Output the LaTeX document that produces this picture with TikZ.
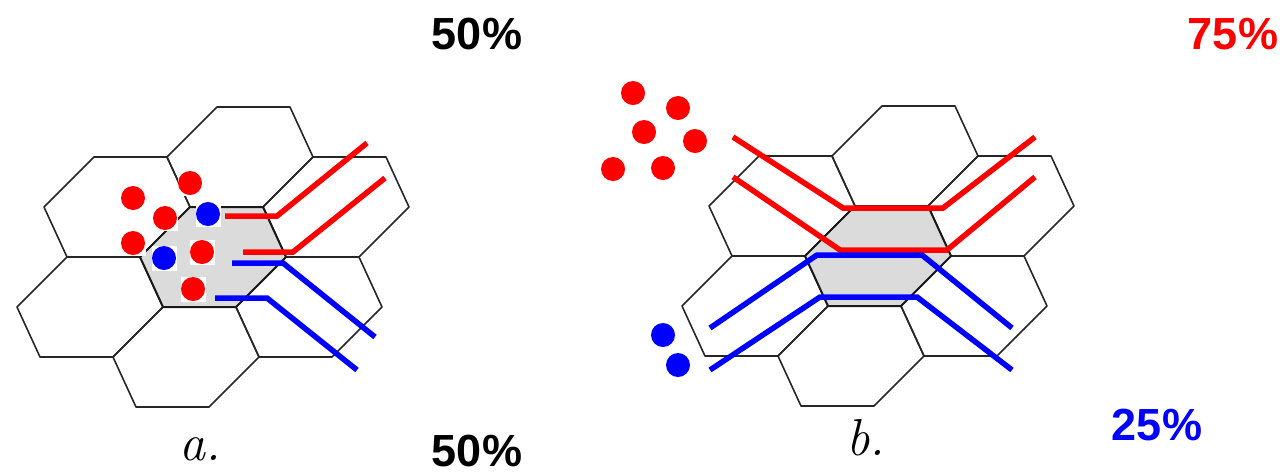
\documentclass[tikz,border=0pt]{standalone}
\usepackage{fontspec}
\newfontfamily\pctfont{Liberation Sans}
\begin{document}
\begin{tikzpicture}[x=1pt,y=-1pt,
  hexline/.style={draw=black!85, line width=1.6pt, line join=round},
  centerhex/.style={fill=black!14, draw=black!90, line width=2pt, line join=round},
  redpath/.style={draw=red, line width=5.5pt, line join=miter},
  bluepath/.style={draw=blue, line width=5.5pt, line join=miter},
  reddot/.style={circle, fill=red, minimum size=24pt, inner sep=0pt},
  bluedot/.style={circle, fill=blue, minimum size=24pt, inner sep=0pt},
  dotbg/.style={rectangle, fill=white, minimum size=25pt, inner sep=0pt},
  pct/.style={font=\pctfont\bfseries\fontsize{45}{50}\selectfont, inner sep=0pt},
  sublabel/.style={font=\fontsize{52}{60}\selectfont\itshape, inner sep=0pt, anchor=base},
  hexcell/.pic={\path[hexline] (-23,-50) -- (50,-50) -- (73,0) -- (23,50) -- (-50,50) -- (-73,0) -- cycle;},
  centercell/.pic={\path[centerhex] (-23,-50) -- (50,-50) -- (73,0) -- (23,50) -- (-50,50) -- (-73,0) -- cycle;}
]
\useasboundingbox (0,0) rectangle (1283,475);

% ---------- left cluster (a) ----------
\foreach \p in {(240,157),(336,207),(309,307),(186,357),(90,307),(117,207)}
  \pic at \p {hexcell};
\pic at (213,257) {centercell};

\draw[redpath]  (225,216) -- (277,216) -- (367,143);
\draw[redpath]  (243,252) -- (293,252) -- (385,178);
\draw[bluepath] (232,263) -- (283,263) -- (375,337);
\draw[bluepath] (215,298) -- (267,298) -- (357,370);

\foreach \n/\x/\y in {r1/190/183, r2/133/198, r3/165/218, r4/133/243, r5/202/252, r6/193/289}{
  \node[dotbg] (bg\n) at (\x,\y) {};
  \node[reddot] (a\n) at (\x,\y) {};
}
\foreach \n/\x/\y in {b1/208/214, b2/164/258}{
  \node[dotbg] (bg\n) at (\x,\y) {};
  \node[bluedot] (a\n) at (\x,\y) {};
}

% ---------- right cluster (b) ----------
\foreach \p in {(905,156),(1001,206),(974,306),(851,356),(755,306),(782,206)}
  \pic at \p {hexcell};
\pic at (878,256) {centercell};

\draw[redpath]  (733,137) -- (843,208) -- (943,208) -- (1035,137);
\draw[redpath]  (733,177) -- (840,250) -- (947,250) -- (1035,177);
\draw[bluepath] (710,328) -- (817,255) -- (922,255) -- (1012,328);
\draw[bluepath] (710,370) -- (820,297) -- (917,297) -- (1012,370);

\foreach \n/\x/\y in {r1/633/93, r2/678/108, r3/644/132, r4/695/141, r5/613/169, r6/663/168}
  \node[reddot] (b\n) at (\x,\y) {};
\foreach \n/\x/\y in {b1/663/335, b2/678/365}
  \node[bluedot] (b\n) at (\x,\y) {};

% ---------- labels ----------
\node[pct] (topa) at (477,34) {50\%};
\node[pct] (bota) at (477,451) {50\%};
\node[pct, text=red] (topb) at (1233,34) {75\%};
\node[pct, text=blue] (botb) at (1157,425) {25\%};
\node[sublabel] (la) at (200,460) {a.};
\node[sublabel] (lb) at (866,455) {b.};
\end{tikzpicture}
\end{document}
